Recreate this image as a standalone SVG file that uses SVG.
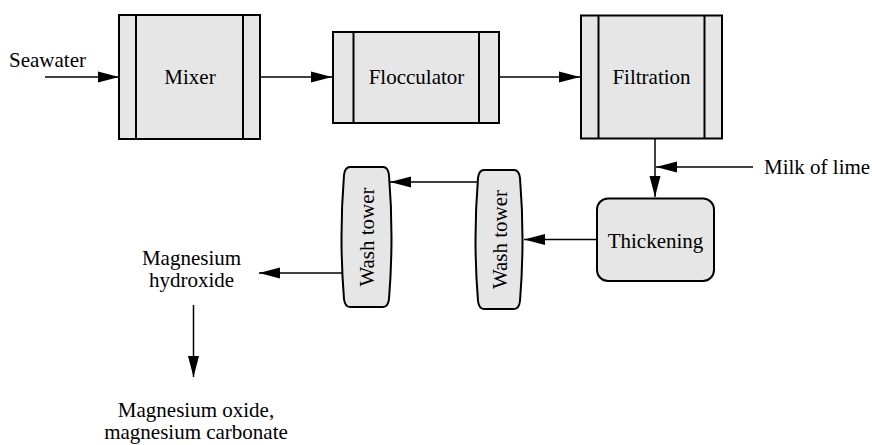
<svg xmlns="http://www.w3.org/2000/svg" width="872" height="445" viewBox="0 0 872 445">
<defs>
<marker id="ah" markerUnits="userSpaceOnUse" markerWidth="22" markerHeight="12" refX="21" refY="6" orient="auto">
<path d="M0,0.5 L21,6 L0,11.5 Z" fill="#000"/>
</marker>
<style>
.box{fill:#e6e6e6;stroke:#000;stroke-width:2}
.ln{stroke:#000;stroke-width:2;fill:none}
.cn{stroke:#000;stroke-width:1.5;fill:none;marker-end:url(#ah)}
text{font-family:'Liberation Serif','Times New Roman',serif;font-size:21px;fill:#000}
.c{text-anchor:middle}
</style>
</defs>
<rect width="872" height="445" fill="#fff"/>
<g id="connectors">
<line class="cn" x1="45" y1="77" x2="119" y2="77"/>
<line class="cn" x1="260" y1="77" x2="332" y2="77"/>
<line class="cn" x1="499" y1="77" x2="580" y2="77"/>
<line class="cn" x1="655" y1="139" x2="655" y2="197"/>
<line class="cn" x1="753" y1="167" x2="656" y2="167"/>
<line class="cn" x1="597" y1="239.5" x2="524" y2="239.5"/>
<line class="cn" x1="477" y1="182" x2="390" y2="182"/>
<line class="cn" x1="342" y1="273" x2="259" y2="273"/>
<line class="cn" x1="193.5" y1="305" x2="193.5" y2="377"/>
</g>
<g id="seawater"><text x="9" y="67">Seawater</text></g>
<g id="mixer">
<rect class="box" x="119" y="15" width="141" height="124"/>
<line class="ln" x1="136" y1="15" x2="136" y2="139"/>
<line class="ln" x1="243" y1="15" x2="243" y2="139"/>
<text class="c" x="190" y="84">Mixer</text>
</g>
<g id="flocculator">
<rect class="box" x="333" y="32" width="166" height="91"/>
<line class="ln" x1="353.5" y1="32" x2="353.5" y2="123"/>
<line class="ln" x1="479" y1="32" x2="479" y2="123"/>
<text class="c" x="416.5" y="84">Flocculator</text>
</g>
<g id="filtration">
<rect class="box" x="581" y="15.5" width="141" height="123"/>
<line class="ln" x1="598.5" y1="15.5" x2="598.5" y2="138.5"/>
<line class="ln" x1="704.5" y1="15.5" x2="704.5" y2="138.5"/>
<text class="c" x="651.5" y="84">Filtration</text>
</g>
<g id="milk"><text x="764" y="174">Milk of lime</text></g>
<g id="thickening">
<rect class="box" x="597" y="198.5" width="117" height="82.5" rx="11" ry="11"/>
<text class="c" x="655.5" y="248">Thickening</text>
</g>
<g id="wash2">
<path class="box" d="M484,170 L514,170 Q519,170 520,178 Q525,239.5 520,301 Q519,309 514,309 L484,309 Q479,309 478,301 Q473,239.5 478,178 Q479,170 484,170 Z"/>
<text class="c" transform="translate(507,239.5) rotate(-90)">Wash tower</text>
</g>
<g id="wash1">
<path class="box" d="M350,167 L383,167 Q388,167 389,175 Q394,237 389,299 Q388,307 383,307 L350,307 Q345,307 344,299 Q339,237 344,175 Q345,167 350,167 Z"/>
<text class="c" transform="translate(374,237) rotate(-90)">Wash tower</text>
</g>
<g id="mgoh">
<text class="c" x="191.5" y="265">Magnesium</text>
<text class="c" x="191.5" y="287">hydroxide</text>
</g>
<g id="mgo">
<text class="c" x="196" y="417">Magnesium oxide,</text>
<text class="c" x="196" y="439">magnesium carbonate</text>
</g>
</svg>
